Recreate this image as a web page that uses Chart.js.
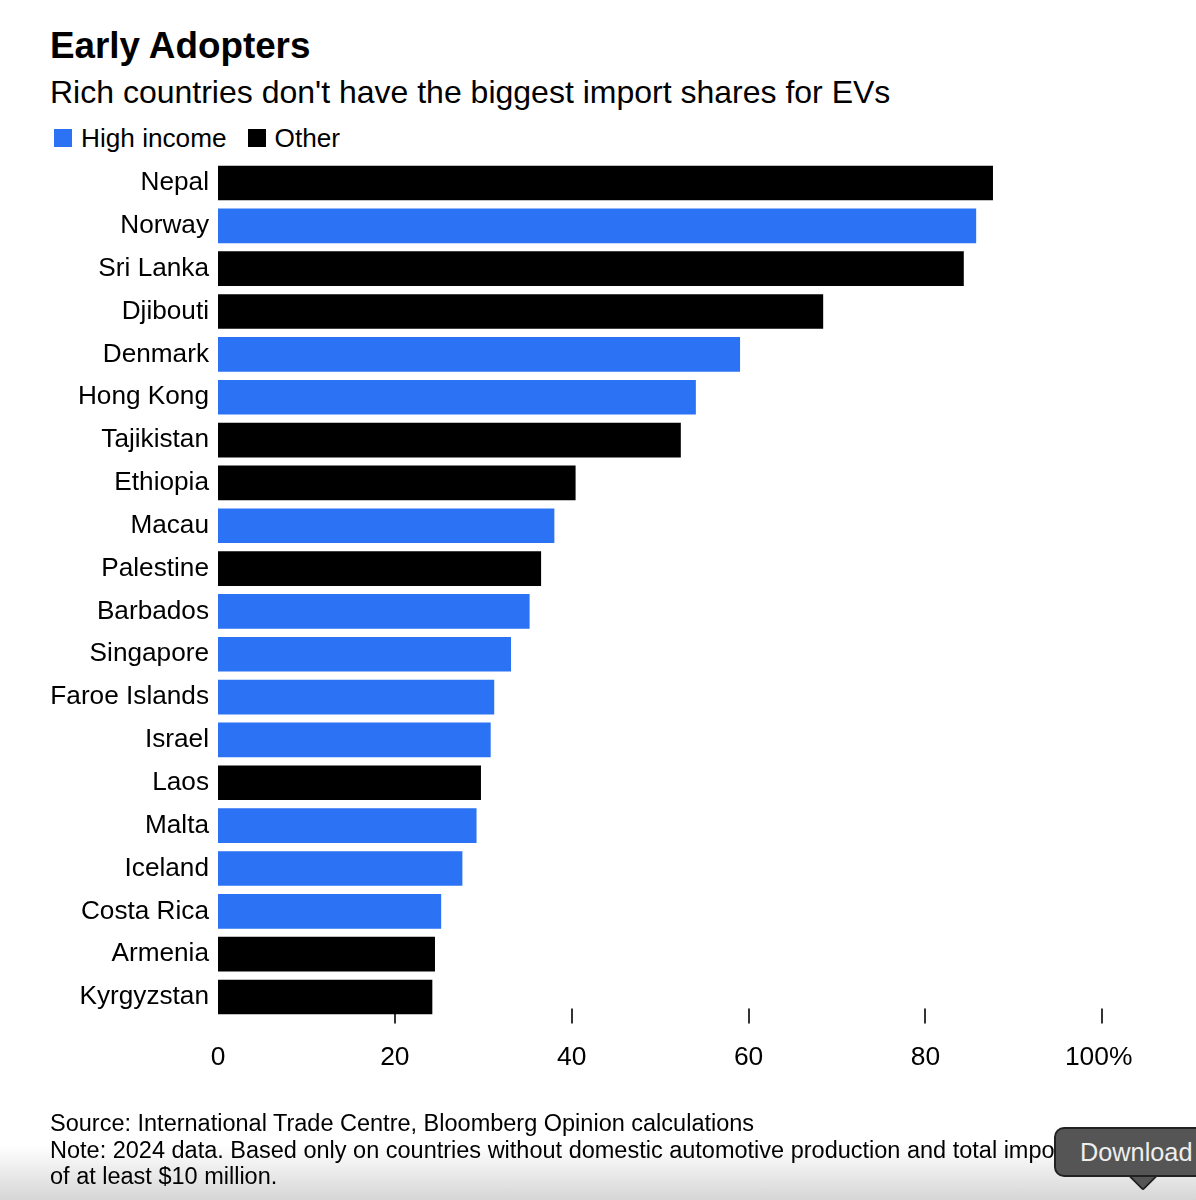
<!DOCTYPE html>
<html>
<head>
<meta charset="utf-8">
<title>Early Adopters</title>
<script src="https://cdn.jsdelivr.net/npm/chart.js@4"></script>
<style>
  html, body { margin: 0; padding: 0; background: #fff; }
  body { position: relative; width: 1196px; height: 1200px; overflow: hidden; font-family: "Liberation Sans", Arial, sans-serif; color: #000; }
  canvas { position: absolute; left: 0; top: 0; }
  .text { position: absolute; left: 50px; white-space: nowrap; }
  #title { top: 25px; font-size: 36.8px; line-height: 42px; font-weight: bold; }
  #subtitle { top: 73px; font-size: 32px; line-height: 38px; }
  #legend { position: absolute; left: 54px; top: 123px; display: flex; font-size: 26.2px; line-height: 30px; }
  .legend-item { display: flex; align-items: center; margin-right: 21px; }
  .legend-box { width: 18px; height: 18px; margin-right: 9px; }
  #footer { top: 1110px; font-size: 23.5px; line-height: 26.6px; }
  #fade { position: absolute; left: 0; right: 0; top: 1145px; height: 55px; background: linear-gradient(#fff, #d6d6d6); }
  #download { position: absolute; left: 1054px; top: 1127px; width: 160px; height: 46px; background: #555; border: 2px solid #222; border-radius: 10px; color: #eee; font-size: 25.3px; line-height: 46px; padding-left: 24px; }
  #arrow { position: absolute; left: 1133px; top: 1167px; width: 18px; height: 18px; background: #555; border-right: 2px solid #222; border-bottom: 2px solid #222; transform: rotate(45deg); border-bottom-right-radius: 3px; }
</style>
</head>
<body>
<div id="fade"></div>
<div class="text" id="title">Early Adopters</div>
<div class="text" id="subtitle">Rich countries don't have the biggest import shares for EVs</div>
<div id="legend"></div>
<canvas id="barChart" width="1196" height="1200"></canvas>
<div class="text" id="footer">Source: International Trade Centre, Bloomberg Opinion calculations<br>Note: 2024 data. Based only on countries without domestic automotive production and total imports<br>of at least $10 million.</div>
<div id="arrow"></div>
<div id="download">Download</div>

<script>
// Chart data
const categories = ["Nepal", "Norway", "Sri Lanka", "Djibouti", "Denmark", "Hong Kong", "Tajikistan", "Ethiopia", "Macau", "Palestine", "Barbados", "Singapore", "Faroe Islands", "Israel", "Laos", "Malta", "Iceland", "Costa Rica", "Armenia", "Kyrgyzstan"];
const highIncomeValues = [null, 85.7, null, null, 59.0, 54.0, null, null, 38.0, null, 35.2, 33.1, 31.2, 30.8, null, 29.2, 27.6, 25.2, null, null];
const otherValues = [87.6, null, 84.3, 68.4, null, null, 52.3, 40.4, null, 36.5, null, null, null, null, 29.7, null, null, null, 24.5, 24.2];
const xTickValues = [0, 20, 40, 60, 80, 100];
const xTickLabels = ["0", "20", "40", "60", "80", "100% "];

const BLUE = "#2b72f5";
const BLACK = "#000000";
const FONT = "'Liberation Sans', Arial, sans-serif";

// Legend sits between the subtitle and the plot
const legendEl = document.getElementById("legend");
[["High income", BLUE], ["Other", BLACK]].forEach(([name, color]) => {
  const item = document.createElement("div");
  item.className = "legend-item";
  item.innerHTML = `<span class="legend-box" style="background:${color}"></span>${name}`;
  legendEl.appendChild(item);
});

// Short tick marks that poke up behind the bars
const axisTicks = {
  id: "axisTicks",
  beforeDatasetsDraw(chart) {
    const { ctx, scales } = chart;
    ctx.save();
    ctx.strokeStyle = "#333";
    ctx.lineWidth = 2;
    xTickValues.slice(1).forEach((value) => {
      const x = Math.round(scales.x.getPixelForValue(value));
      ctx.beginPath();
      ctx.moveTo(x, chart.chartArea.bottom - 10);
      ctx.lineTo(x, chart.chartArea.bottom + 5);
      ctx.stroke();
    });
    ctx.restore();
  },
};

const barChart = new Chart(document.getElementById("barChart").getContext("2d"), {
  type: "bar",
  data: {
    labels: categories,
    datasets: [
      { label: "High income", data: highIncomeValues, backgroundColor: BLUE, barThickness: 34 },
      { label: "Other", data: otherValues, backgroundColor: BLACK, barThickness: 34 },
    ],
  },
  options: {
    indexAxis: "y",
    responsive: false,
    animation: false,
    layout: { padding: { top: 161.6, bottom: 121.6, left: 0, right: 93.7 } },
    plugins: { legend: { display: false }, title: { display: false }, tooltip: { enabled: false } },
    scales: {
      x: {
        min: 0,
        max: 100,
        afterFit: (scale) => { scale.height = 60; },
        afterBuildTicks: (scale) => { scale.ticks = xTickValues.map((value) => ({ value })); },
        grid: { display: false },
        border: { display: false },
        ticks: {
          callback: (value) => xTickLabels[xTickValues.indexOf(value)],
          maxRotation: 0,
          autoSkip: false,
          padding: 15,
          color: BLACK,
          font: { family: FONT, size: 26.4 },
        },
      },
      y: {
        stacked: true,
        afterFit: (scale) => { scale.width = 218; },
        grid: { display: false, drawTicks: false },
        border: { display: false },
        ticks: { padding: 9, autoSkip: false, color: BLACK, font: { family: FONT, size: 26.2 } },
      },
    },
  },
  plugins: [axisTicks],
});
</script>
</body>
</html>
